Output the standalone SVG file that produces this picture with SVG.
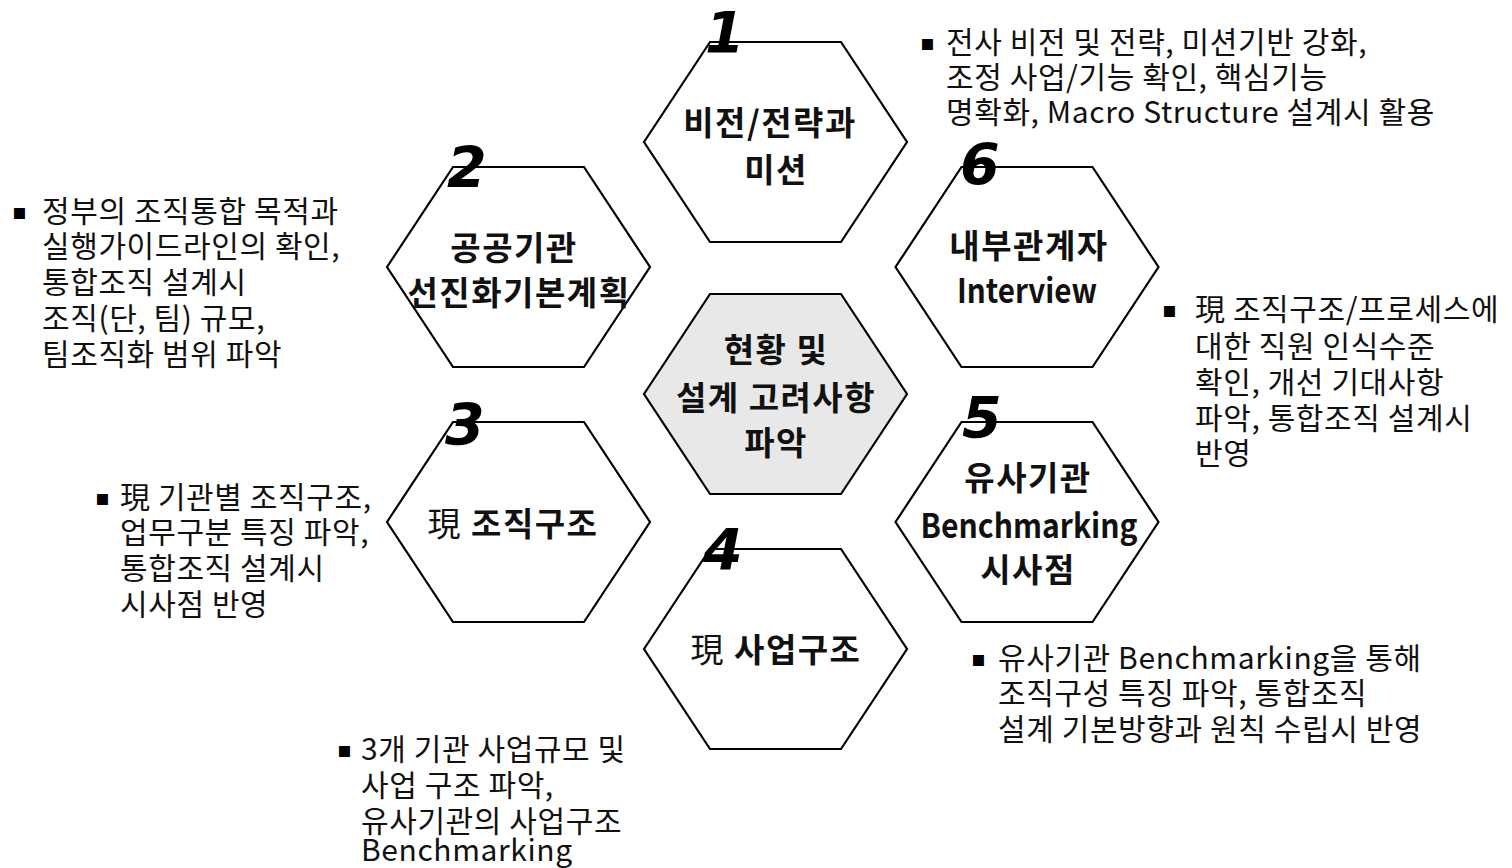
<svg xmlns="http://www.w3.org/2000/svg" width="1512" height="868" viewBox="0 0 1512 868">
<defs>
<style>
.hex{fill:#ffffff;stroke:#000;stroke-width:2.2;stroke-linejoin:miter}
.hexc{fill:#e8e8e8;stroke:#000;stroke-width:2.2}
.lbl{font-family:"Noto Sans CJK KR","Noto Sans",sans-serif;font-weight:bold;font-size:33px;letter-spacing:1.5px;fill:#111;text-anchor:middle}
.lat{letter-spacing:0}
.hanja{font-weight:normal}
.num{font-family:"DejaVu Sans",sans-serif;font-weight:bold;font-style:italic;font-size:57px;fill:#000}
.txt{font-family:"Noto Sans CJK KR","Noto Sans",sans-serif;font-size:30px;letter-spacing:0.6px;fill:#111}
.bul{font-family:"DejaVu Sans",sans-serif;font-size:22px;fill:#000}
</style>
<polygon id="hexshape" points="-131.5,100 -65.5,0 65.5,0 131.5,100 65.5,200 -65.5,200"/>
</defs>
<rect width="1512" height="868" fill="#ffffff"/>
<g id="connectors"></g>

<g id="node-center">
<use href="#hexshape" class="hexc" transform="translate(775.5,294)"/>
<text class="lbl" x="776" y="362">현황 및</text>
<text class="lbl" x="776" y="410">설계 고려사항</text>
<text class="lbl" x="776" y="455">파악</text>
</g>

<g id="node-1">
<use href="#hexshape" class="hex" transform="translate(775.5,42)"/>
<text class="lbl" x="770" y="135">비전/전략과</text>
<text class="lbl" x="776" y="182">미션</text>
<text class="num" x="705" y="53">1</text>
</g>

<g id="node-2">
<use href="#hexshape" class="hex" transform="translate(518.5,167)"/>
<text class="lbl" x="514" y="260">공공기관</text>
<text class="lbl" x="519" y="305">선진화기본계획</text>
<text class="num" x="447" y="188">2</text>
</g>

<g id="node-3">
<use href="#hexshape" class="hex" transform="translate(518.5,422)"/>
<text class="lbl" x="513" y="536"><tspan class="hanja">現</tspan> 조직구조</text>
<text class="num" x="445" y="445">3</text>
</g>

<g id="node-4">
<use href="#hexshape" class="hex" transform="translate(775.5,549)"/>
<text class="lbl" x="776" y="662"><tspan class="hanja">現</tspan> 사업구조</text>
<text class="num" x="703" y="570">4</text>
</g>

<g id="node-5">
<use href="#hexshape" class="hex" transform="translate(1027,422)"/>
<text class="lbl" x="1028" y="490">유사기관</text>
<text class="lbl lat" x="1029" y="538" textLength="217" lengthAdjust="spacingAndGlyphs">Benchmarking</text>
<text class="lbl" x="1028" y="582">시사점</text>
<text class="num" x="962" y="438">5</text>
</g>

<g id="node-6">
<use href="#hexshape" class="hex" transform="translate(1027,167)"/>
<text class="lbl" x="1029" y="258">내부관계자</text>
<text class="lbl lat" x="1027" y="303" textLength="140" lengthAdjust="spacingAndGlyphs">Interview</text>
<text class="num" x="960" y="185">6</text>
</g>

<g id="note-1">
<text class="bul" x="920" y="50">▪</text>
<text class="txt" x="946" y="53">전사 비전 및 전략, 미션기반 강화,</text>
<text class="txt" x="946" y="88">조정 사업/기능 확인, 핵심기능</text>
<text class="txt" x="946" y="123">명확화, Macro Structure 설계시 활용</text>
</g>

<g id="note-2">
<text class="bul" x="12" y="219">▪</text>
<text class="txt" x="42" y="222">정부의 조직통합 목적과</text>
<text class="txt" x="42" y="257">실행가이드라인의 확인,</text>
<text class="txt" x="42" y="293">통합조직 설계시</text>
<text class="txt" x="42" y="329">조직(단, 팀) 규모,</text>
<text class="txt" x="42" y="365">팀조직화 범위 파악</text>
</g>

<g id="note-3">
<text class="bul" x="95" y="505">▪</text>
<text class="txt" x="120" y="508">現 기관별 조직구조,</text>
<text class="txt" x="120" y="543">업무구분 특징 파악,</text>
<text class="txt" x="120" y="579">통합조직 설계시</text>
<text class="txt" x="120" y="615">시사점 반영</text>
</g>

<g id="note-4">
<text class="bul" x="337" y="757">▪</text>
<text class="txt" x="361" y="760">3개 기관 사업규모 및</text>
<text class="txt" x="361" y="796">사업 구조 파악,</text>
<text class="txt" x="361" y="832">유사기관의 사업구조</text>
<text class="txt" x="361" y="861">Benchmarking</text>
</g>

<g id="note-5">
<text class="bul" x="971" y="666">▪</text>
<text class="txt" x="998" y="669">유사기관 Benchmarking을 통해</text>
<text class="txt" x="998" y="704">조직구성 특징 파악, 통합조직</text>
<text class="txt" x="998" y="740">설계 기본방향과 원칙 수립시 반영</text>
</g>

<g id="note-6">
<text class="bul" x="1162" y="317">▪</text>
<text class="txt" x="1195" y="320">現 조직구조/프로세스에</text>
<text class="txt" x="1195" y="357">대한 직원 인식수준</text>
<text class="txt" x="1195" y="393">확인, 개선 기대사항</text>
<text class="txt" x="1195" y="429">파악, 통합조직 설계시</text>
<text class="txt" x="1195" y="464">반영</text>
</g>
</svg>
